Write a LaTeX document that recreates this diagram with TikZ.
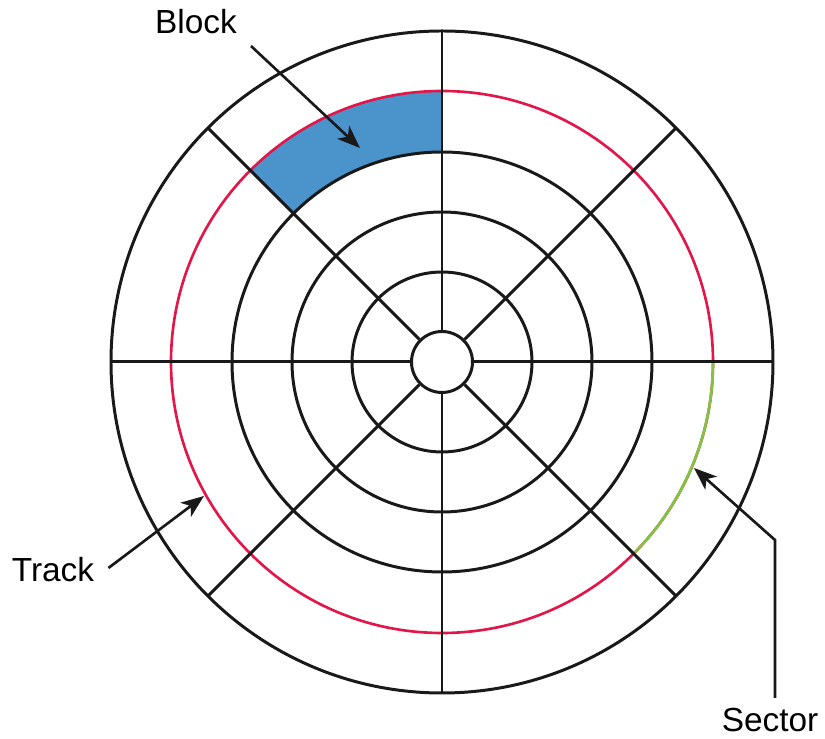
\documentclass[tikz,border=0pt]{standalone}
\usepackage{fontspec}
\setmainfont{Liberation Sans}
\usetikzlibrary{arrows.meta}

\definecolor{blockblue}{RGB}{74,148,203}
\definecolor{trackred}{RGB}{226,22,72}
\definecolor{sectorgreen}{RGB}{128,196,66}

\tikzset{
  disk/.style={line width=1.7pt, black!90},
  label/.style={font=\fontsize{19}{22}\selectfont, inner sep=0pt},
  pointer/.style={line width=1.5pt, black!90, -{Stealth[length=13pt, width=10pt, inset=3.5pt]}}
}

\begin{document}
\begin{tikzpicture}[x=0.02cm, y=0.02cm]
    \useasboundingbox (-442,-377) rectangle (383,362);

    % Block
      \fill[blockblue] (90:210) arc (90:135:210) -- (135:271) arc (135:90:271) -- cycle;

    % Tracks
      \draw[disk] (0,0) circle (331);
      \draw[disk] (0,0) circle (210);
      \draw[disk] (0,0) circle (150);
      \draw[disk] (0,0) circle (90);
      \draw[trackred, line width=1.5pt] (0,0) circle (271);
      \draw[sectorgreen, line width=1.5pt] (0:271) arc (0:-45:271);
      \node[disk, draw, circle, inner sep=0pt, minimum size=1.22cm] (hub) at (0,0) {};

    % Spokes
      \draw[disk] (hub.0)   -- (0:331);
      \draw[disk] (hub.45)  -- (45:331);
      \draw[disk] (hub.90)  -- (90:331);
      \draw[disk] (hub.135) -- (135:331);
      \draw[disk] (hub.180) -- (180:331);
      \draw[disk] (hub.225) -- (225:331);
      \draw[disk] (hub.270) -- (270:331);
      \draw[disk] (hub.315) -- (315:331);

    % Labels
      \node[label] (block)  at (-246,340)  {Block};
      \node[label] (track)  at (-389,-208) {Track};
      \node[label] (sector) at (328,-358)  {Sector};

      \coordinate (blocktip)  at (-82,214);
      \coordinate (tracktip)  at (-238,-134);
      \coordinate (sectortip) at (252,-106);
      \coordinate (sectorbend) at (333,-178);

    % Pointers
      \draw[pointer] (-191,316) -- (blocktip);
      \draw[pointer] (track.east) ++(14,2) -- (tracktip);
      \draw[pointer] (sector.north -| sectorbend) ++(0,10) -- (sectorbend) -- (sectortip);
  \end{tikzpicture}
\end{document}
